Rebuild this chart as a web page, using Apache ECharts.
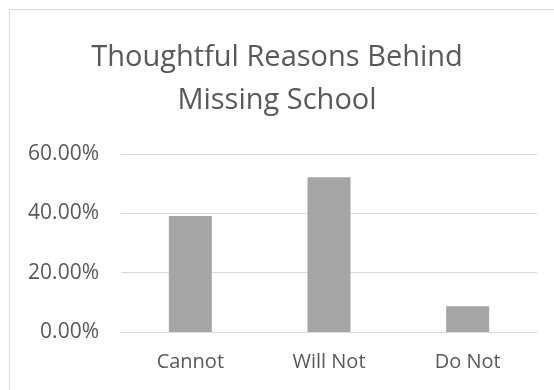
<!DOCTYPE html>
<html>
<head>
<meta charset="utf-8">
<script src="https://cdn.jsdelivr.net/npm/echarts@6/dist/echarts.min.js"></script>
<style>
html, body { margin: 0; padding: 0; background: #fff; }
#chart { width: 554px; height: 390px; }
</style>
</head>
<body>
<div id="chart"></div>
<script>
// Reasons students give for missing school, as share of responses
const categories = ['Cannot', 'Will Not', 'Do Not'];
const shares = [0.391, 0.522, 0.087];
const yMin = 0;
const yMax = 0.6;
const yStep = 0.2;

const chart = echarts.init(document.getElementById('chart'));
const textColor = '#595959';
const fontFamily = '"Open Sans", "Noto Sans", sans-serif';

chart.setOption({
  animation: false,
  backgroundColor: '#ffffff',
  title: {
    text: 'Thoughtful Reasons Behind\nMissing School',
    left: 'center',
    top: 31,
    textStyle: {
      color: textColor,
      fontFamily: fontFamily,
      fontWeight: 'normal',
      fontSize: 29,
      lineHeight: 43
    }
  },
  graphic: [{
    type: 'rect',
    shape: { x: 9.5, y: 9.5, width: 600, height: 420 },
    style: { fill: 'none', stroke: '#d9d9d9', lineWidth: 1 },
    silent: true
  }],
  grid: { left: 121, right: 17, top: 154, bottom: 58 },
  xAxis: {
    type: 'category',
    data: categories,
    axisLine: { show: true, lineStyle: { color: '#d9d9d9', width: 1 } },
    axisTick: { show: false },
    axisLabel: { color: textColor, fontFamily: fontFamily, fontSize: 20, margin: 20 }
  },
  yAxis: {
    type: 'value',
    min: yMin,
    max: yMax,
    interval: yStep,
    axisLine: { show: false },
    axisTick: { show: false },
    splitLine: { lineStyle: { color: '#d9d9d9', width: 1 } },
    axisLabel: {
      color: textColor,
      fontFamily: fontFamily,
      fontSize: 21,
      margin: 22,
      formatter: v => (v * 100).toFixed(2) + '%'
    }
  },
  series: [{
    type: 'bar',
    data: shares,
    barWidth: '31%',
    itemStyle: { color: '#a5a5a5' }
  }]
});
</script>
</body>
</html>
